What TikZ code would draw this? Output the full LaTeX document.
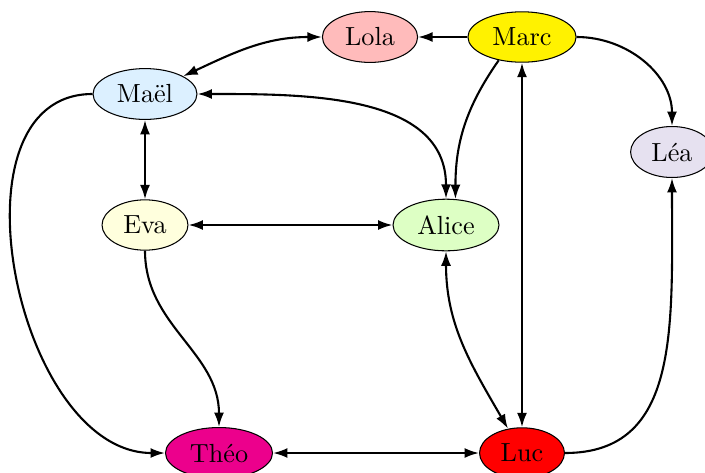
\documentclass[tikz,border=0pt]{standalone}
\usetikzlibrary{shapes.geometric,arrows.meta}

\definecolor{lolafill}{RGB}{255,187,187}
\definecolor{marcfill}{RGB}{255,242,0}
\definecolor{maelfill}{RGB}{220,240,255}
\definecolor{leafill}{RGB}{230,225,240}
\definecolor{evafill}{RGB}{255,255,221}
\definecolor{alicefill}{RGB}{221,255,196}
\definecolor{theofill}{RGB}{236,0,140}
\definecolor{lucfill}{RGB}{255,0,0}

\tikzset{
  person/.style={ellipse, draw=black, line width=0.4pt},
  link/.style={line width=0.8pt, >={Latex[length=5.5pt,width=3.8pt]}}
}

\begin{document}
\begin{tikzpicture}[x=0.3817pt, y=0.3817pt]
  \useasboundingbox (0,0) rectangle (705,-472);
  \clip (0,0) rectangle (705,-472);

  % people
  \node[person, fill=lolafill]  (lola)  at (370,-37)  {Lola};
  \node[person, fill=marcfill]  (marc)  at (522,-37)  {Marc};
  \node[person, fill=maelfill]  (mael)  at (145,-94)  {Maël};
  \node[person, fill=leafill]   (lea)   at (672,-152) {Léa};
  \node[person, fill=evafill]   (eva)   at (145,-225) {Eva};
  \node[person, fill=alicefill] (alice) at (446,-225) {Alice};
  \node[person, fill=theofill]  (theo)  at (219,-453) {Théo};
  \node[person, fill=lucfill]   (luc)   at (522,-453) {Luc};

  % straight links
  \draw[link, ->]  (marc) -- (lola);
  \draw[link, <->] (mael) -- (eva);
  \draw[link, <->] (eva) -- (alice);
  \draw[link, <->] (theo) -- (luc);
  \draw[link, <->] (marc) -- (luc);

  % curved links
  \draw[link, <->] (lola) to[out=180, in=25] (mael);
  \draw[link, ->]  (marc) to[out=0, in=90] (lea);
  \draw[link, ->]  (marc.-135) to[out=-125, in=90] (alice.70);
  \draw[link, <->] (mael) to[out=0, in=90] (alice);
  \draw[link, ->]  (mael) to[out=180, in=180, looseness=1.04] (theo);
  \draw[link, ->]  (eva) to[out=-90, in=90] (theo);
  \draw[link, <->] (alice) to[out=-90, in=120] (luc);
  \draw[link, ->]  (luc) to[out=0, in=-90, in looseness=1.3] (lea);
\end{tikzpicture}
\end{document}
